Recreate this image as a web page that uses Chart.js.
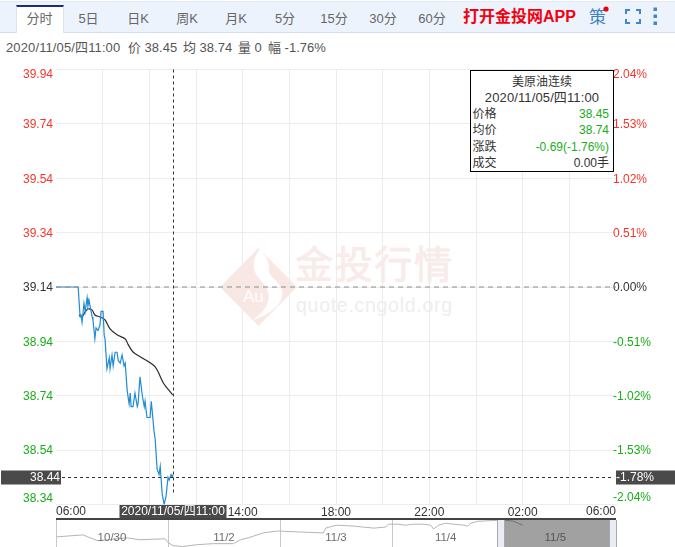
<!DOCTYPE html>
<html>
<head>
<meta charset="utf-8">
<title>美原油连续 分时</title>
<script src="https://cdn.jsdelivr.net/npm/chart.js@4"></script>
<style>
    html, body { margin: 0; padding: 0; background: #fff; }
    body { width: 675px; height: 547px; position: relative; overflow: hidden; font-family: "Liberation Sans", "Noto Sans CJK SC", sans-serif; }
    .abs { position: absolute; white-space: nowrap; }
    #bar { position: absolute; left: 0; top: 1px; width: 675px; height: 32px; background: #edf3fd; border-top: 1px solid #e2e9f5; border-bottom: 1px solid #d3deef; box-sizing: border-box; }
    #active-tab { position: absolute; left: 16px; top: 5px; width: 48px; height: 28px; background: #fff; border-top: 2px solid #17307e; border-left: 1px solid #dbe4f2; border-right: 1px solid #dbe4f2; box-sizing: border-box; }
    .tab { position: absolute; top: 10px; width: 48px; margin-left: -24px; text-align: center; font-size: 13px; line-height: 17px; color: #666; }
    #info span { position: absolute; top: 39px; font-size: 13px; line-height: 17px; color: #555; white-space: nowrap; }
    #tip { position: absolute; left: 470px; top: 70px; width: 144px; height: 102px; border: 1.5px solid #000; background: #fff; box-sizing: border-box; }
    .tip-line { position: absolute; left: 0; width: 100%; height: 16px; line-height: 16px; font-size: 12px; color: #333; }
    .tip-line b { font-weight: normal; position: absolute; left: 1.5px; }
    .tip-line i { font-style: normal; position: absolute; right: 4px; }
    .up { color: #1aad1a !important; }
    canvas { position: absolute; left: 0; }
</style>
</head>
<body>

<svg class="abs" style="left:0;top:0" width="675" height="547">
    <polygon points="258.5,248 297,287 258.5,326 220,287" fill="#f9e7e3"/>
    <path d="M260,249 C266,256 270,262 269,270 C268,277 279,280 282,290 C285,302 272,314 253,320 C263,312 271,304 268,292 C266,282 256,280 254,268 C253,260 256,254 260,249 Z" fill="#fff"/>
    <text x="243" y="302" font-size="17" fill="#fff" font-family="Liberation Sans">Au</text>
    <text x="295" y="278" font-size="38" fill="#f9ebe8" stroke="#f9ebe8" stroke-width="0.8" font-family="Noto Sans CJK SC" textLength="157">金投行情</text>
    <text x="296" y="312" font-size="19.5" fill="#eeeeee" font-family="Liberation Sans" textLength="156">quote.cngold.org</text>
</svg>

<div id="bar"></div>
<div id="active-tab"></div>
<div id="tabs"></div>
<div class="abs" style="left:463px;top:7px;font-size:16px;line-height:20px;font-weight:bold;color:#f5000f">打开金投网APP</div>
<div class="abs" style="left:589px;top:7px;font-size:17px;line-height:21px;color:#3f7fc4">策</div>
<svg class="abs" style="left:600px;top:4px" width="70" height="24">
    <circle cx="6" cy="5" r="2.6" fill="#f00000"/>
    <path d="M26,10 V6 H30 M36,6 H40 V10 M40,15 V19 H36 M30,19 H26 V15" fill="none" stroke="#3f86cc" stroke-width="2"/>
    <rect x="53.5" y="3.5" width="3.5" height="3.5" fill="#3f86cc"/>
    <rect x="53.5" y="10.5" width="3.5" height="3.5" fill="#3f86cc"/>
    <rect x="53.5" y="17.5" width="3.5" height="3.5" fill="#3f86cc"/>
</svg>

<div id="info">
    <span style="left:6px;letter-spacing:0.12px">2020/11/05/四11:00</span>
    <span style="left:128px">价 38.45</span>
    <span style="left:183px">均 38.74</span>
    <span style="left:238px">量 0</span>
    <span style="left:268px">幅 -1.76%</span>
</div>

<canvas id="main-chart" style="top:0"></canvas>
<div class="abs" style="left:56px;top:518px;width:560px;height:2px;background:#444"></div>
<canvas id="nav-chart" style="top:520px"></canvas>

<div id="tip">
    <div class="tip-line" style="top:3px;text-align:center">美原油连续</div>
    <div class="tip-line" style="top:19px;text-align:center;font-size:13px;letter-spacing:0.12px">2020/11/05/四11:00</div>
    <div class="tip-line" style="top:35px"><b>价格</b><i class="up">38.45</i></div>
    <div class="tip-line" style="top:51px"><b>均价</b><i class="up">38.74</i></div>
    <div class="tip-line" style="top:68px"><b>涨跌</b><i class="up">-0.69(-1.76%)</i></div>
    <div class="tip-line" style="top:84px"><b>成交</b><i>0.00手</i></div>
</div>

<script>
// tabs
const tabNames = ['分时', '5日', '日K', '周K', '月K', '5分', '15分', '30分', '60分'];
const tabCentres = [39.5, 88.5, 138, 187, 236, 285, 334, 383, 432];

// price line, minutes since 06:00
const priceMinutes = [0, 30, 57, 62, 64, 67, 72, 75, 80, 82, 85, 93, 95, 100, 103, 108, 113, 116, 121, 124, 126, 131, 137, 139, 144, 147, 152, 157, 160, 165, 170, 175, 178, 183, 188, 191, 193, 198, 203, 209, 211, 216, 222, 227, 229, 234, 242, 245, 247, 252, 255, 260, 265, 268, 270, 273, 278, 283, 288, 291, 296, 299, 300];
const prices = [39.14, 39.14, 39.14, 39.03, 39.04, 39.01, 39.08, 39.05, 39.10, 39.07, 39.09, 39.03, 39.02, 38.95, 38.99, 38.98, 39.00, 39.05, 39.05, 38.96, 38.95, 38.84, 38.88, 38.84, 38.89, 38.85, 38.90, 38.90, 38.87, 38.86, 38.89, 38.85, 38.86, 38.76, 38.71, 38.75, 38.70, 38.70, 38.75, 38.70, 38.71, 38.81, 38.74, 38.70, 38.72, 38.66, 38.66, 38.72, 38.69, 38.61, 38.58, 38.47, 38.45, 38.48, 38.44, 38.38, 38.34, 38.37, 38.44, 38.43, 38.45, 38.44, 38.45];

// average line
const avgMinutes = [59, 67, 75, 82, 93, 100, 113, 126, 139, 157, 178, 185, 198, 222, 255, 276, 300];
const avgPrices = [39.037, 39.030, 39.048, 39.059, 39.055, 39.037, 39.030, 39.019, 38.986, 38.964, 38.949, 38.930, 38.901, 38.879, 38.846, 38.787, 38.743];

// axes
const prevClose = 39.14;
const yTicks = [39.94, 39.74, 39.54, 39.34, 39.14, 38.94, 38.74, 38.54, 38.34];
const pctTicks = ['2.04%', '1.53%', '1.02%', '0.51%', '0.00%', '-0.51%', '-1.02%', '-1.53%', '-2.04%'];
const timeLabels = ['06:00', '', '10:00', '', '14:00', '', '18:00', '', '22:00', '', '02:00', '', '06:00'];

// crosshair
const crossMinute = 300;
const crossPrice = 38.44;
const crossPct = '-1.78%';
const crossTime = '2020/11/05/四11:00';

// navigator, hours since the start of 10/30
const navHours = [0.2, 3, 5.8, 7.3, 9, 15.2, 18, 23.4, 24, 25.1, 27.1, 30.3, 33.7, 38, 39.5, 41.2, 44.4, 47.4, 52.4, 57.3, 57.8, 59.3, 60.3, 63.8, 65.9, 68.1, 70.6, 71.3, 73.2, 74.9, 76.6, 78.8, 80.3, 80.9, 82, 83.5, 85.2, 87.4, 88.2, 88.9, 90.4, 94.7, 96.4, 98.1, 100];
const navPrices = [36.88, 37.02, 37.15, 36.74, 36.33, 36.74, 36.47, 36.61, 36.06, 35.65, 35.51, 35.78, 35.92, 35.92, 36.47, 36.74, 37.43, 37.70, 37.56, 37.43, 38.11, 38.39, 38.52, 38.39, 38.25, 38.11, 38.25, 38.66, 38.66, 38.52, 38.66, 38.66, 38.52, 37.98, 38.52, 38.80, 38.66, 38.52, 38.39, 38.80, 39.07, 39.21, 39.21, 39.07, 38.52];
const navDays = ['10/30', '11/2', '11/3', '11/4', '11/5'];
const navDayHours = [12, 36, 60, 83.5, 107];
const navSelection = [96, 118.5];

const FONT = '"Liberation Sans", "Noto Sans CJK SC", sans-serif';
const RED = '#f5352a';
const GREEN = '#1aad1a';
const DARK = '#4a4a4a';

function priceColor(i) {
    if (yTicks[i] > prevClose) return RED;
    if (yTicks[i] < prevClose) return GREEN;
    return '#333';
}

const tabsBox = document.getElementById('tabs');
tabNames.forEach((name, i) => {
    const tab = document.createElement('div');
    tab.className = 'tab';
    tab.textContent = name;
    tab.style.left = tabCentres[i] + 'px';
    tabsBox.appendChild(tab);
});

function setupCanvas(id, w, h) {
    const canvas = document.getElementById(id);
    canvas.width = w;
    canvas.height = h;
    canvas.style.width = w + 'px';
    canvas.style.height = h + 'px';
    return canvas.getContext('2d');
}

// first and last labels sit inside the plot, the rest come from the axes
const overlayPlugin = {
    id: 'overlay',
    afterLayout(chart) {
        // right labels start a little inside the plot, the axis would clip them otherwise
        chart.scales.y2.left -= 4;
    },
    afterDraw(chart) {
        const { ctx, chartArea: area, scales } = chart;
        const n = yTicks.length - 1;
        ctx.save();
        ctx.font = '12px ' + FONT;
        ctx.textBaseline = 'middle';

        ctx.textAlign = 'right';
        ctx.fillStyle = RED;
        ctx.fillText(yTicks[0].toFixed(2), 53, 75);
        ctx.fillStyle = GREEN;
        ctx.fillText(yTicks[n].toFixed(2), 53, 498.5);

        ctx.textAlign = 'left';
        ctx.fillStyle = RED;
        ctx.fillText(pctTicks[0], 613, 75);
        ctx.fillStyle = GREEN;
        ctx.fillText(pctTicks[n], 613, 498);

        ctx.fillStyle = '#333';
        ctx.fillText(timeLabels[0], 56, 511.5);
        ctx.textAlign = 'right';
        ctx.fillText(timeLabels[timeLabels.length - 1], 616, 511.5);

        // crosshair
        const cx = Math.round(scales.x.getPixelForValue(crossMinute)) + 0.5;
        const cy = Math.round(scales.y.getPixelForValue(crossPrice)) + 0.5;
        ctx.strokeStyle = '#333';
        ctx.lineWidth = 1;
        ctx.setLineDash([3, 3]);
        ctx.beginPath();
        ctx.moveTo(cx, area.top);
        ctx.lineTo(cx, 495);
        ctx.moveTo(area.left, cy);
        ctx.lineTo(area.right - 2, cy);
        ctx.stroke();
        ctx.setLineDash([]);

        // value tags
        ctx.fillStyle = DARK;
        ctx.fillRect(1, cy - 7, 60, 14);
        ctx.fillRect(616, cy - 7, 59, 14);
        ctx.fillRect(cx - 54, 505, 107, 13);
        ctx.fillStyle = '#fff';
        ctx.textAlign = 'right';
        ctx.fillText(crossPrice.toFixed(2), 60, cy);
        ctx.textAlign = 'left';
        ctx.fillText(crossPct, 616, cy);
        ctx.textAlign = 'center';
        ctx.fillText(crossTime, cx - 0.5, 511.5);
        ctx.restore();
    }
};

new Chart(setupCanvas('main-chart', 675, 547), {
    type: 'line',
    data: {
        datasets: [
            {
                label: '昨收',
                data: [{ x: 0, y: prevClose }, { x: 1440, y: prevClose }],
                borderColor: '#8c8c8c',
                borderWidth: 1,
                borderDash: [5, 4],
                pointRadius: 0
            },
            {
                label: '价格',
                data: priceMinutes.map((m, i) => ({ x: m, y: prices[i] })),
                borderColor: '#1f8bd6',
                borderWidth: 1.2,
                pointRadius: 0,
                tension: 0
            },
            {
                label: '均价',
                data: avgMinutes.map((m, i) => ({ x: m, y: avgPrices[i] })),
                borderColor: '#2b2b2b',
                borderWidth: 1.2,
                pointRadius: 0,
                tension: 0.3
            }
        ]
    },
    options: {
        responsive: false,
        animation: false,
        layout: { padding: { top: 69.5, left: 0, right: 0, bottom: 0 } },
        plugins: { legend: { display: false }, tooltip: { enabled: false } },
        scales: {
            x: {
                type: 'linear',
                min: 0,
                max: 1440,
                afterFit: (scale) => { scale.height = 42.5; },
                afterBuildTicks: (scale) => { scale.ticks = timeLabels.map((_, i) => ({ value: i * 120 })); },
                grid: {
                    color: (c) => (c.index === 0 || c.index === timeLabels.length - 1 ? 'transparent' : '#ececec'),
                    drawTicks: false
                },
                border: { color: '#ececec' },
                ticks: {
                    autoSkip: false,
                    maxRotation: 0,
                    padding: 1,
                    color: '#333',
                    font: { size: 12, family: FONT },
                    callback: (v, i) => (i === 0 || i === timeLabels.length - 1 ? '' : timeLabels[i])
                }
            },
            y: {
                position: 'left',
                min: 38.34,
                max: 39.94,
                afterFit: (scale) => { scale.width = 56; },
                afterBuildTicks: (scale) => { scale.ticks = yTicks.map((v) => ({ value: v })); },
                grid: { color: '#ececec', drawTicks: false },
                border: { display: false },
                ticks: {
                    autoSkip: false,
                    padding: 3,
                    labelOffset: 1,
                    font: { size: 12, family: FONT },
                    color: (c) => priceColor(c.index),
                    callback: (v, i) => (i === 0 || i === yTicks.length - 1 ? '' : yTicks[i].toFixed(2))
                }
            },
            y2: {
                position: 'right',
                min: 38.34,
                max: 39.94,
                afterFit: (scale) => { scale.width = 59; },
                afterBuildTicks: (scale) => { scale.ticks = yTicks.map((v) => ({ value: v })); },
                grid: { display: false, drawTicks: false },
                border: { display: false },
                ticks: {
                    autoSkip: false,
                    padding: 1,
                    labelOffset: 1,
                    font: { size: 12, family: FONT },
                    color: (c) => priceColor(c.index),
                    callback: (v, i) => (i === 0 || i === pctTicks.length - 1 ? '' : pctTicks[i])
                }
            }
        }
    },
    plugins: [overlayPlugin]
});

const navPlugin = {
    id: 'navOverlay',
    afterDatasetsDraw(chart) {
        const { ctx, scales } = chart;
        const x0 = scales.x.getPixelForValue(navSelection[0]);
        const x1 = scales.x.getPixelForValue(navSelection[1]);
        ctx.save();
        // selected window
        ctx.fillStyle = 'rgba(0,0,0,0.37)';
        ctx.fillRect(x0, 0, x1 - x0, chart.height);

        ctx.font = '11.5px ' + FONT;
        ctx.textAlign = 'center';
        ctx.textBaseline = 'middle';
        navDays.forEach((d, i) => {
            ctx.fillStyle = i === navDays.length - 1 ? '#555' : '#6e6e6e';
            ctx.fillText(d, scales.x.getPixelForValue(navDayHours[i]), 17.5);
        });

        // drag handles
        ctx.fillStyle = '#e9ecf1';
        ctx.strokeStyle = '#a3a8bc';
        ctx.lineWidth = 1;
        [x0 - 7, x1].forEach((hx) => {
            ctx.fillRect(hx, 0, 7, chart.height);
            ctx.strokeRect(Math.round(hx) + 0.5, -1, 7, chart.height + 2);
        });
        ctx.restore();
    }
};

new Chart(setupCanvas('nav-chart', 675, 27), {
    type: 'line',
    data: {
        datasets: [{
            data: navHours.map((h, i) => ({ x: h, y: navPrices[i] })),
            borderColor: '#b4b4b4',
            borderWidth: 1,
            pointRadius: 0,
            tension: 0
        }]
    },
    options: {
        responsive: false,
        animation: false,
        layout: { padding: { left: 56, right: 59, top: 0, bottom: 0 } },
        plugins: { legend: { display: false }, tooltip: { enabled: false } },
        scales: {
            x: {
                type: 'linear',
                min: 0,
                max: 120,
                afterFit: (scale) => { scale.height = 0; },
                grid: { color: '#c8c8c8', drawTicks: false },
                border: { display: false },
                ticks: { display: false, stepSize: 24 }
            },
            y: { display: false, min: 35.45, max: 39.25 }
        }
    },
    plugins: [navPlugin]
});
</script>
</body>
</html>
